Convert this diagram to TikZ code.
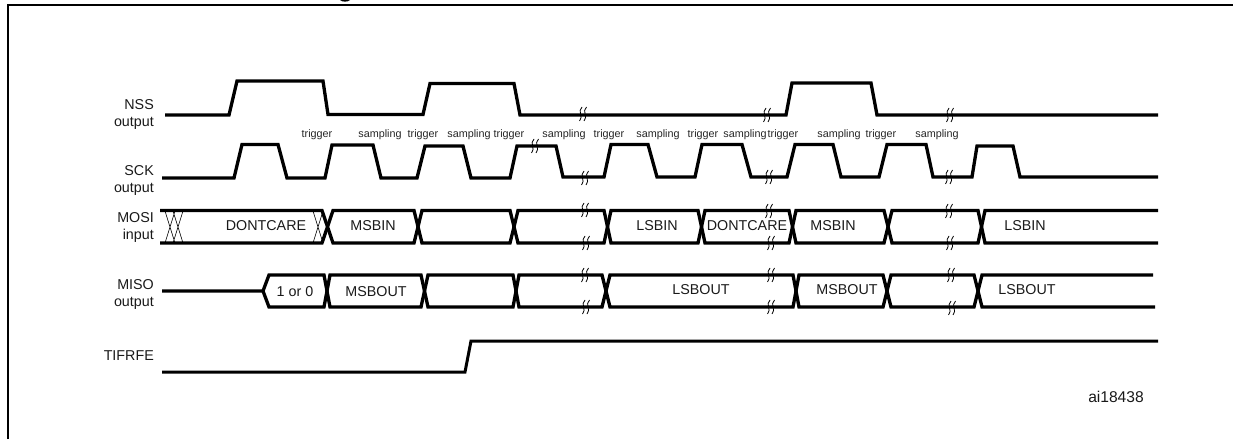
\documentclass[tikz,border=0pt]{standalone}
\usepackage{fontspec}
\setmainfont{Liberation Sans}
\tikzset{
  wave/.style={line width=3.3pt,line join=miter,miter limit=4},
  frameline/.style={line width=2.6pt},
  hatch/.style={line width=0.6pt},
  sigl/.style={font=\fontsize{14.3}{16}\selectfont,anchor=base east,inner sep=0pt,text=black!90},
  cell/.style={font=\fontsize{14.3}{16}\selectfont,anchor=base,inner sep=0pt,text=black!90},
  refl/.style={font=\fontsize{15.6}{18}\selectfont,anchor=base,inner sep=0pt,text=black!90},
  tick/.style={font=\fontsize{10.8}{12}\selectfont,anchor=base,inner sep=0pt,text=black!85},
  brk/.pic={
    \draw[line width=0.8pt] (-1,-7) .. controls (-6,-2.5) and (1,2.5) .. (-3.5,7);
    \draw[line width=0.8pt] (3.5,-7) .. controls (-1.5,-2.5) and (5.5,2.5) .. (1,7);
  }
}
\begin{document}
\begin{tikzpicture}[x=1pt,y=-1pt]
\useasboundingbox (0,0) rectangle (1233,439);
% frame (cut at right and bottom)
\draw[frameline] (8,439) -- (8,5) -- (1233,5);
\fill (340,0) .. controls (342,2.2) and (348,2.2) .. (350,0) -- cycle;
% NSS
\draw[wave] (165,115) -- (229,115) -- (237,81) -- (323,81) -- (328,114.5) -- (423,114.5) -- (430,83.5) -- (514,83.5) -- (520,115) -- (786,115) -- (792,83) -- (871,83) -- (877,115) -- (1158,115);
% SCK
\draw[wave] (162,178) -- (234,178) -- (242,144.5) -- (278,144.5) -- (287,178) -- (325,178) -- (332,145) -- (373,145) -- (381,178) -- (412,178)
  -- (417,178) -- (425,146) -- (463,146) -- (471,178) -- (510,178) -- (517,146) -- (556,146) -- (563,177) -- (604,177) -- (611,144.5) -- (648,144.5) -- (657,177) -- (695,177) -- (702,144.5) -- (742,144.5) -- (751,177) -- (787,177) -- (795,144.5) -- (833,144.5) -- (841,177) -- (879,177) -- (887,144.5) -- (926,144.5) -- (933,177) -- (972,177) -- (977,146) -- (1013,146) -- (1020,177) -- (1158,177);
% MOSI
\draw[wave] (160,210.5) -- (322,210.5) -- (333,243) -- (414,243) -- (422,210.5) -- (510,210.5) -- (518,243) -- (604,243) -- (611,210.5) -- (698,210.5) -- (705,243) -- (789,243) -- (796,210.5) -- (884,210.5) -- (892,243) -- (978,243) -- (985,210.5) -- (1158,210.5);
\draw[wave] (160,243) -- (322,243) -- (333,210.5) -- (414,210.5) -- (422,243) -- (510,243) -- (518,210.5) -- (604,210.5) -- (611,243) -- (698,243) -- (705,210.5) -- (789,210.5) -- (796,243) -- (884,243) -- (892,210.5) -- (978,210.5) -- (985,243) -- (1158,243);
\draw[hatch] (165,211) -- (175,243) (175,211) -- (165,243) (173,211) -- (183,243) (183,211) -- (173,243) (313,211) -- (323,243) (323,211) -- (313,243);
% MISO
\draw[wave] (162,291) -- (263,291) -- (269,275) -- (324,275) -- (330,307) -- (421,307) -- (428,275) -- (513,275) -- (519,307) -- (602,307) -- (610,275) -- (793,275) -- (799,307) -- (883,307) -- (891,275) -- (974,275) -- (982,307) -- (1155,307);
\draw[wave] (263,291) -- (269,307) -- (324,307) -- (330,275) -- (421,275) -- (428,307) -- (513,307) -- (519,275) -- (602,275) -- (610,307) -- (793,307) -- (799,275) -- (883,275) -- (891,307) -- (974,307) -- (982,275) -- (1153,275);
% TIFRFE
\draw[wave,line width=3pt] (162,372) -- (465,372) -- (471,341) -- (1158,341);
% breaks
\foreach \x/\y in {583/114,767/115,950/115,535/146,585/178,769/177,949/177,585/210,586/243,769/211,771/243,949/211,950/243,585/275,586/307,771/275,771/307,951/275,952/308}
  \pic at (\x,\y) {brk};
% signal names
\node[sigl] (nss)  at (154,109) {NSS};
\node[sigl] (nsso) at (154,126) {output};
\node[sigl] (sck)  at (154,175) {SCK};
\node[sigl] (scko) at (154,192) {output};
\node[sigl] (mosi) at (154,222) {MOSI};
\node[sigl] (mosii) at (154,239) {input};
\node[sigl] (miso) at (154,289) {MISO};
\node[sigl] (misoo) at (154,306) {output};
\node[sigl] (tif) at (154,360) {TIFRFE};
% trigger/sampling
\node[tick] (t1) at (317,137) {trigger};
\node[tick] (s1) at (380,137) {sampling};
\node[tick] (t2) at (423,137) {trigger};
\node[tick] (s2) at (469,137) {sampling};
\node[tick] (t3) at (509,137) {trigger};
\node[tick] (s3) at (564,137) {sampling};
\node[tick] (t4) at (609,137) {trigger};
\node[tick] (s4) at (658,137) {sampling};
\node[tick] (t5) at (703,137) {trigger};
\node[tick] (s5) at (745,137) {sampling};
\node[tick] (t6) at (783,137) {trigger};
\node[tick] (s6) at (839,137) {sampling};
\node[tick] (t7) at (881,137) {trigger};
\node[tick] (s7) at (937,137) {sampling};
% MOSI cells
\node[cell] (a1) at (266,230) {DONTCARE};
\node[cell] (a2) at (373,230) {MSBIN};
\node[cell] (a3) at (657,230) {LSBIN};
\node[cell] (a4) at (747,230) {DONTCARE};
\node[cell] (a5) at (833,230) {MSBIN};
\node[cell] (a6) at (1025,230) {LSBIN};
% MISO cells
\node[cell] (b1) at (295,296) {1 or 0};
\node[cell] (b2) at (376,296) {MSBOUT};
\node[cell] (b3) at (701,294.5) {LSBOUT};
\node[cell] (b4) at (847,294.5) {MSBOUT};
\node[cell] (b5) at (1027,294.5) {LSBOUT};
\node[refl] (ref) at (1116,402) {ai18438};
\end{tikzpicture}
\end{document}
